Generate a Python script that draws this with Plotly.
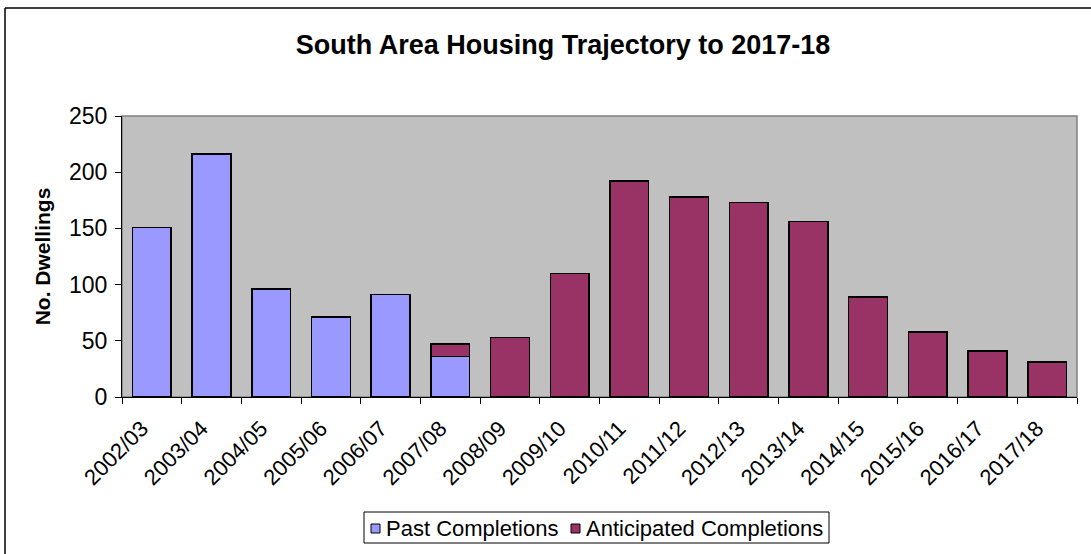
import plotly.graph_objects as go

# Financial years and dwelling completions
years = ["2002/03", "2003/04", "2004/05", "2005/06", "2006/07", "2007/08",
         "2008/09", "2009/10", "2010/11", "2011/12", "2012/13", "2013/14",
         "2014/15", "2015/16", "2016/17", "2017/18"]
past_completions = [151, 216, 96, 71, 91, 36,
                    None, None, None, None, None, None, None, None, None, None]
anticipated_completions = [None, None, None, None, None, 11,
                           53, 110, 192, 178, 173, 156, 89, 58, 41, 31]
y_ticks = [0, 50, 100, 150, 200, 250]

series_names = ["Past Completions", "Anticipated Completions"]
series_colors = ["#9999FF", "#993366"]

W, H = 1091, 554
L, R, T, B = 122, 14, 116, 157
FONT = "Liberation Sans, Arial, sans-serif"

fig = go.Figure()
for name, vals, col in zip(series_names,
                           [past_completions, anticipated_completions],
                           series_colors):
    fig.add_trace(go.Bar(
        x=years, y=vals, name=name, showlegend=False,
        marker=dict(color=col, line=dict(color="#000000", width=1.5)),
    ))

pw, ph = W - L - R, H - T - B


def px_x(v):
    """Pixel column -> paper x."""
    return (v - L) / pw


def px_y(v):
    """Pixel row -> paper y."""
    return 1 - (v - T) / ph


shapes = [
    # grey frame around the plot area
    dict(type="rect", xref="paper", yref="paper", x0=0, x1=1, y0=0, y1=1,
         line=dict(color="#808080", width=1.5), layer="below"),
    # outer chart border (left and top edges)
    dict(type="line", xref="paper", yref="paper",
         x0=px_x(5), x1=px_x(5), y0=px_y(8), y1=px_y(H + 10),
         line=dict(color="#000000", width=1.5)),
    dict(type="line", xref="paper", yref="paper",
         x0=px_x(5), x1=px_x(W + 10), y0=px_y(8), y1=px_y(8),
         line=dict(color="#000000", width=1.5)),
    # legend box
    dict(type="rect", xref="paper", yref="paper",
         x0=px_x(364), x1=px_x(829), y0=px_y(543), y1=px_y(512),
         line=dict(color="#000000", width=1), fillcolor="#FFFFFF"),
]
annotations = []

# legend entries: swatch + label
legend_x = [371, 571]
for lx, name, col in zip(legend_x, series_names, series_colors):
    shapes.append(dict(type="rect", xref="paper", yref="paper",
                       x0=px_x(lx), x1=px_x(lx + 9),
                       y0=px_y(533), y1=px_y(524),
                       line=dict(color="#000000", width=1), fillcolor=col))
    annotations.append(dict(text=name, xref="paper", yref="paper",
                            x=px_x(lx + 13), y=px_y(528),
                            xanchor="left", yanchor="middle", showarrow=False,
                            font=dict(size=22, family=FONT, color="#000000")))

fig.update_layout(
    width=W, height=H,
    autosize=False,
    barmode="stack",
    bargap=0.35,
    paper_bgcolor="#FFFFFF",
    plot_bgcolor="#C0C0C0",
    margin=dict(l=L, r=R, t=T, b=B, pad=0),
    font=dict(family=FONT, color="#000000", size=20),
    title=dict(
        text="<b>South Area Housing Trajectory to 2017-18</b>",
        x=563 / W, xref="container", xanchor="center",
        y=1 - 45 / H, yref="container", yanchor="middle",
        font=dict(family=FONT, size=27, color="#000000"),
    ),
    xaxis=dict(
        type="category",
        tickson="boundaries",
        ticks="outside", ticklen=6, tickcolor="#000000", tickwidth=1,
        tickangle=-45,
        ticklabelshift=-10, ticklabelstandoff=9,
        tickfont=dict(size=22, family=FONT),
        showline=True, linecolor="#000000", linewidth=1,
        showgrid=False, zeroline=False,
    ),
    yaxis=dict(
        range=[0, 250],
        tickvals=y_ticks,
        ticks="outside", ticklen=6, tickcolor="#000000", tickwidth=1,
        ticklabelstandoff=3,
        tickfont=dict(size=23, family=FONT),
        showline=True, linecolor="#000000", linewidth=1,
        showgrid=False, zeroline=False,
        title=dict(text="<b>No. Dwellings</b>", font=dict(size=21, family=FONT),
                   standoff=12),
    ),
    showlegend=False,
    shapes=shapes,
    annotations=annotations,
)

fig.write_html("out.html")
